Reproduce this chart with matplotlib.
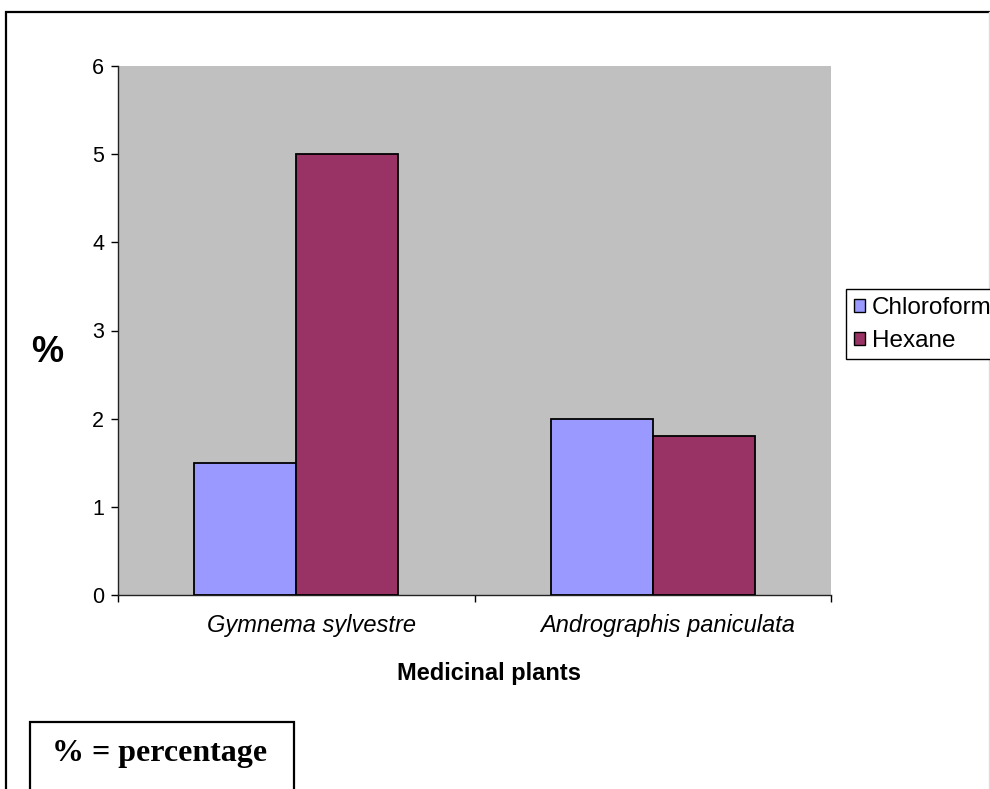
import matplotlib
matplotlib.use("Agg")
import matplotlib.pyplot as plt
from matplotlib.patches import Rectangle, Patch
from matplotlib.lines import Line2D
from matplotlib.transforms import ScaledTranslation
import numpy as np

plt.rcParams['font.family'] = ['Liberation Sans', 'DejaVu Sans']

# data
plants = ['Gymnema sylvestre', 'Andrographis paniculata']
chloroform = [1.5, 2.0]
hexane = [5.0, 1.8]
series_names = ['Chloroform', 'Hexane']
series_colors = ['#9999FF', '#993366']
y_ticks = [0, 1, 2, 3, 4, 5, 6]

W, H = 990, 789
fig = plt.figure(figsize=(W / 100, H / 100), dpi=100)

# plot area in pixel coords of the reference
left, right, top, bottom = 118, 831, 66, 595
ax = fig.add_axes([left / W, 1 - bottom / H, (right - left) / W, (bottom - top) / H])
ax.set_facecolor('#C0C0C0')

x = np.arange(len(plants)) + 0.5
bw = 102 / 357
ax.bar(x - bw / 2, chloroform, bw, color=series_colors[0], edgecolor='black', linewidth=1.3, zorder=3)
ax.bar(x + bw / 2, hexane, bw, color=series_colors[1], edgecolor='black', linewidth=1.3, zorder=3)

ax.set_xlim(0, len(plants))
ax.set_ylim(0, 6)
ax.set_yticks(y_ticks)
ax.set_yticklabels([str(t) for t in y_ticks], fontsize=15.5)
ax.tick_params(axis='y', direction='out', length=5, width=1, pad=5)

# boundaries as major ticks, names as minor ticks
ax.set_xticks(np.arange(len(plants) + 1))
ax.set_xticklabels([])
ax.tick_params(axis='x', which='major', direction='out', length=5, width=1)
ax.set_xticks(x, minor=True)
ax.set_xticklabels(plants, minor=True, fontsize=17, style='italic')
ax.tick_params(axis='x', which='minor', length=0, pad=14)
# excel draws these names a little right of the group centre
shift = ScaledTranslation(15 / 100, 0, fig.dpi_scale_trans)
for lab in ax.get_xticklabels(minor=True):
    lab.set_transform(lab.get_transform() + shift)

for s in ['top', 'right']:
    ax.spines[s].set_visible(False)
for s in ['left', 'bottom']:
    ax.spines[s].set_linewidth(1)
    ax.spines[s].set_color('#222222')

ax.set_xlabel('Medicinal plants', fontsize=17, fontweight='bold')
ax.xaxis.set_label_coords((489 - left) / (right - left), (bottom - 662) / (bottom - top))
ax.set_ylabel('%', fontsize=26, fontweight='bold', rotation=0, va='center', ha='center')
ax.yaxis.set_label_coords((47 - left) / (right - left), (bottom - 353) / (bottom - top))

handles = [Patch(facecolor=c, edgecolor='black', linewidth=1) for c in series_colors]
fig.legend(handles, series_names, loc='upper left', bbox_to_anchor=(846 / W, 1 - 289 / H),
           borderaxespad=0, fontsize=17.5, frameon=True, fancybox=False, edgecolor='black',
           handlelength=0.45, handleheight=0.45, handletextpad=0.3, labelspacing=0.45,
           borderpad=0.32, framealpha=1)
fig.legends[0].get_frame().set_linewidth(1)

# outer chart frame
fig.add_artist(Rectangle((6 / W, -0.05), (1000 - 6) / W, (H - 12) / H + 0.05,
                         transform=fig.transFigure, fill=False, edgecolor='black',
                         linewidth=1.6, clip_on=False))
fig.add_artist(Line2D([989 / W, 989 / W], [0, 1 - 12 / H], transform=fig.transFigure,
                      color='#DDDDDD', linewidth=1))

# note box at the bottom left
fig.add_artist(Rectangle((30 / W, -0.05), (294 - 30) / W, (H - 722) / H + 0.05,
                         transform=fig.transFigure, fill=False, edgecolor='black',
                         linewidth=1.6, clip_on=False))
fig.text(160 / W, 1 - 753 / H, '% = percentage', fontsize=23, fontweight='bold',
         family=['Liberation Serif', 'DejaVu Serif'], ha='center', va='center')

fig.savefig('out.png', dpi=100)
